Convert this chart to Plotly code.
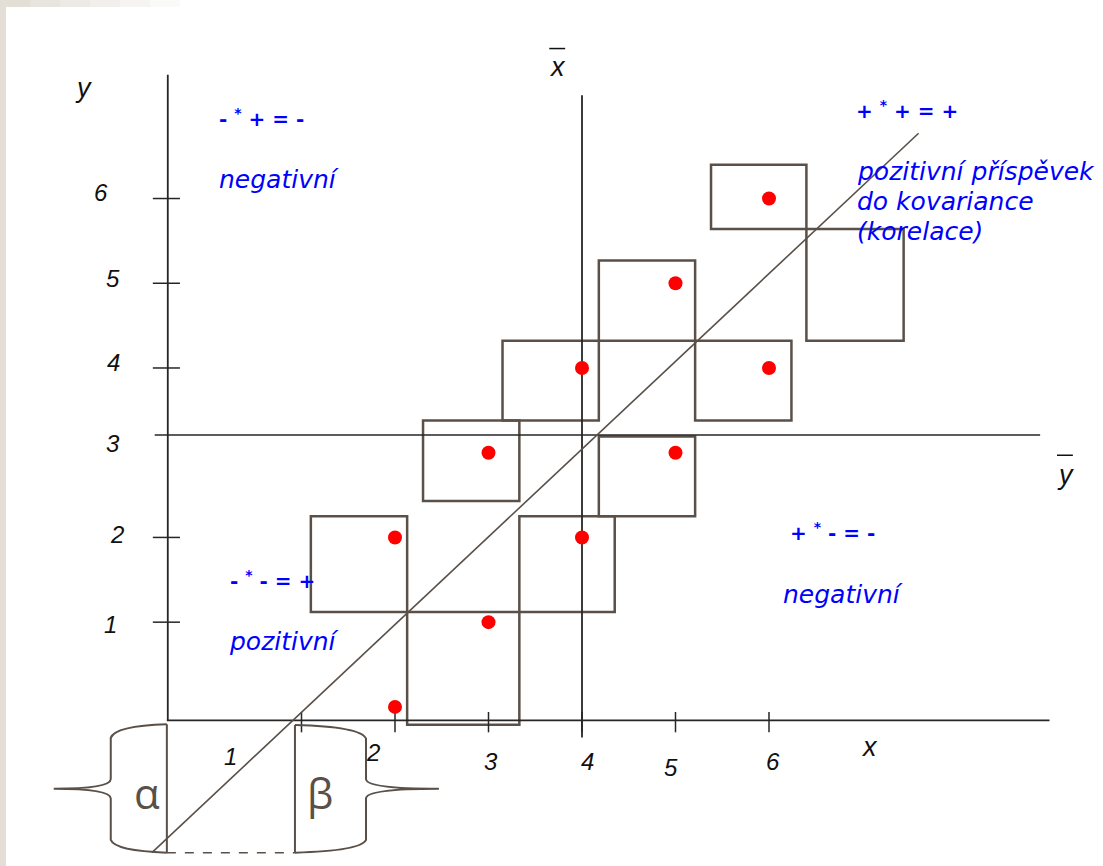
import plotly.graph_objects as go

# ---------------- data ----------------
x_vals = [2, 3, 2, 4, 3, 5, 4, 5, 6, 6]
y_vals = [0, 1, 2, 2, 3, 3, 4, 5, 4, 6]

x_mean = 4.0          # vertical line  x-bar
y_mean_drawn = 3.21   # horizontal line y-bar (as drawn)

x_ticks = [1, 2, 3, 4, 5, 6]
x_tick_text = ["1", "2", "3", "4", "5", "6"]
x_tick_lab_x = [0.24, 1.77, 3.03, 4.06, 4.95, 6.04]
x_tick_lab_y = [-0.58, -0.54, -0.65, -0.65, -0.71, -0.65]

y_ticks = [1, 2, 4, 5, 6]
y_tick_text = ["1", "2", "3", "4", "5", "6"]
y_tick_lab_x = [-1.04, -0.97, -1.02, -1.01, -1.02, -1.14]
y_tick_lab_y = [0.97, 2.03, 3.11, 4.07, 5.06, 6.07]

# squares drawn around the points
box_x0 = [5.38, 6.40, 4.18, 3.15, 5.21, 2.30, 4.18, 1.10, 3.33, 2.13]
box_x1 = [6.40, 7.44, 5.21, 4.18, 6.24, 3.33, 5.21, 2.13, 4.35, 3.33]
box_y0 = [5.64, 4.32, 4.32, 3.38, 3.38, 2.43, 2.25, 1.12, 1.12, -0.21]
box_y1 = [6.40, 5.64, 5.27, 4.32, 4.32, 3.38, 3.19, 2.25, 2.25, 1.12]

# straight line (as drawn)
reg_x = [-0.60, 7.60]
reg_y = [-1.72, 6.77]

# axes extents
y_axis_x = -0.43
y_axis_y = [-0.16, 7.46]
x_axis_y = -0.16
x_axis_x = [-0.44, 9.00]
ybar_x = [-0.57, 8.90]
xbar_y = [-0.36, 7.22]

# quadrant texts
signs_text = ["- <sup>*</sup> + = -", "+ <sup>*</sup> + = +", "- <sup>*</sup> - = +", "+ <sup>*</sup> - = -"]
signs_x = [0.10, 6.91, 0.21, 6.20]
signs_y = [6.95, 7.05, 1.50, 2.07]
words_text = ["negativní", "pozitivní příspěvek", "do kovariance", "(korelace)", "pozitivní", "negativní"]
words_x = [0.10, 6.92, 6.92, 6.92, 0.20, 6.13]
words_y = [6.22, 6.32, 5.96, 5.61, 0.77, 1.33]

# brace parameters: edge, inner, tip, top, mid, bottom
braces = [(-0.44, -1.04, -1.65, -0.205, -0.965, -1.72),
          (0.93, 1.69, 2.47, -0.214, -0.965, -1.72)]
brace_labels = ["α", "β"]
brace_lab_x = [-0.65, 1.20]
brace_lab_y = [-1.01, -1.01]

X_RANGE = [-2.2246, 9.5722]
Y_RANGE = [-1.8777, 8.3430]

DRAW = "#5a5048"
AX = "#262626"
BLUE = "#0000ff"

fig = go.Figure()

# axes
fig.add_trace(go.Scatter(x=[y_axis_x, y_axis_x], y=y_axis_y, mode="lines",
                         line=dict(color=AX, width=1.8), hoverinfo="skip"))
fig.add_trace(go.Scatter(x=x_axis_x, y=[x_axis_y, x_axis_y], mode="lines",
                         line=dict(color=AX, width=1.8), hoverinfo="skip"))
fig.add_trace(go.Scatter(x=ybar_x, y=[y_mean_drawn, y_mean_drawn], mode="lines",
                         line=dict(color=AX, width=1.5), hoverinfo="skip"))
fig.add_trace(go.Scatter(x=[x_mean, x_mean], y=xbar_y, mode="lines",
                         line=dict(color=AX, width=1.8), hoverinfo="skip"))

# tick marks
tx, ty = [], []
for t in x_ticks:
    tx += [t, t, None]
    ty += [-0.06, -0.30, None]
fig.add_trace(go.Scatter(x=tx, y=ty, mode="lines", line=dict(color=AX, width=1.5),
                         hoverinfo="skip"))
tx, ty = [], []
for t in y_ticks:
    tx += [-0.59, -0.30, None]
    ty += [t, t, None]
fig.add_trace(go.Scatter(x=tx, y=ty, mode="lines", line=dict(color=AX, width=1.5),
                         hoverinfo="skip"))

# squares
for a, b, c, d in zip(box_x0, box_x1, box_y0, box_y1):
    fig.add_shape(type="rect", x0=a, x1=b, y0=c, y1=d, xref="x", yref="y",
                  line=dict(color=DRAW, width=2.5), layer="below")

# line
fig.add_trace(go.Scatter(x=reg_x, y=reg_y, mode="lines",
                         line=dict(color=DRAW, width=1.6), hoverinfo="skip"))

# braces
for (edge, inner, tip, top, mid, bot) in braces:
    cx = inner + 0.075 * (edge - inner)
    path = (f"M {edge},{top} Q {cx},{top - 0.02} {inner},{top - 0.16} "
            f"L {inner},{mid + 0.115} Q {inner},{mid} {tip},{mid} "
            f"Q {inner},{mid} {inner},{mid - 0.115} "
            f"L {inner},{bot + 0.15} Q {cx},{bot + 0.02} {edge},{bot}")
    fig.add_shape(type="path", path=path, xref="x", yref="y",
                  line=dict(color=DRAW, width=2))
    fig.add_trace(go.Scatter(x=[edge, edge], y=[top, bot], mode="lines",
                             line=dict(color=DRAW, width=2), hoverinfo="skip"))
fig.add_trace(go.Scatter(x=[braces[0][0], braces[1][0]], y=[braces[0][5], braces[1][5]],
                         mode="lines", line=dict(color=DRAW, width=1.5, dash="dash"),
                         hoverinfo="skip"))
for t, bx, by in zip(brace_labels, brace_lab_x, brace_lab_y):
    fig.add_annotation(x=bx, y=by, text=t, showarrow=False, xanchor="center", yanchor="middle",
                       font=dict(family="Open Sans", size=42, color=DRAW))

# points
fig.add_trace(go.Scatter(x=x_vals, y=y_vals, mode="markers",
                         marker=dict(color="#ff0000", size=14, line=dict(width=0)),
                         hoverinfo="skip"))

# tick labels
lab_font = dict(family="Liberation Sans", size=24, color="#111111", style="italic")
for t, lx, ly in zip(x_tick_text, x_tick_lab_x, x_tick_lab_y):
    fig.add_annotation(x=lx, y=ly, text=t, showarrow=False, xanchor="center",
                       yanchor="middle", font=lab_font)
for t, lx, ly in zip(y_tick_text, y_tick_lab_x, y_tick_lab_y):
    fig.add_annotation(x=lx, y=ly, text=t, showarrow=False, xanchor="center",
                       yanchor="middle", font=lab_font)

# axis names and means
axis_font = dict(family="Liberation Sans", size=27, color="#111111", style="italic")
fig.add_annotation(x=-1.33, y=7.30, text="y", showarrow=False, font=axis_font)
fig.add_annotation(x=7.07, y=-0.47, text="x", showarrow=False, font=axis_font)
fig.add_annotation(x=3.74, y=7.55, text="x", showarrow=False, font=axis_font)
fig.add_annotation(x=9.17, y=2.74, text="y", showarrow=False, font=axis_font)
fig.add_trace(go.Scatter(x=[3.65, 3.82, None, 9.08, 9.25], y=[7.77, 7.77, None, 2.97, 2.97],
                         mode="lines", line=dict(color="#111111", width=1.5), hoverinfo="skip"))

# quadrant texts
for t, lx, ly in zip(signs_text, signs_x, signs_y):
    fig.add_annotation(x=lx, y=ly, text=t, showarrow=False, xanchor="left", yanchor="middle",
                       font=dict(family="DejaVu Sans", size=20, color=BLUE, weight="bold"))
for t, lx, ly in zip(words_text, words_x, words_y):
    fig.add_annotation(x=lx, y=ly, text=t, showarrow=False, xanchor="left", yanchor="middle",
                       font=dict(family="DejaVu Sans", size=25, color=BLUE, style="italic"))

# page edge decoration
fig.add_shape(type="rect", xref="paper", yref="paper", x0=0, x1=6 / 1103, y0=0, y1=1,
              fillcolor="#e3dfd7", line=dict(width=0), layer="above")
for i in range(6):
    fig.add_shape(type="rect", xref="paper", yref="paper", x0=i * 30 / 1103,
                  x1=(i + 1) * 30 / 1103, y0=1 - 7 / 866, y1=1,
                  fillcolor="#e3dfd7", opacity=1 - i / 6, line=dict(width=0), layer="above")

fig.update_layout(
    width=1103, height=866, margin=dict(l=0, r=0, t=0, b=0),
    paper_bgcolor="white", plot_bgcolor="white", showlegend=False,
    xaxis=dict(range=X_RANGE, visible=False, fixedrange=True),
    yaxis=dict(range=Y_RANGE, visible=False, fixedrange=True),
)

fig.write_html("out.html", config={"displayModeBar": False},
               post_script="document.body.style.margin='0';document.body.style.overflow='hidden';")
